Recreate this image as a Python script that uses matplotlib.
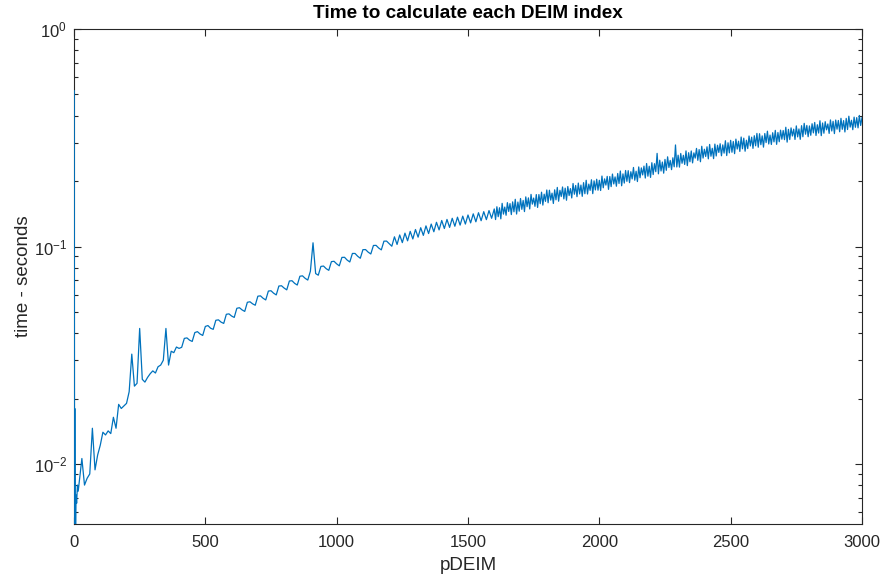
import numpy as np
import matplotlib.pyplot as plt
from matplotlib.ticker import LogLocator, NullFormatter

plt.rcParams['font.family'] = ['Liberation Sans', 'DejaVu Sans']

# primeros indices (pico inicial)
idx_start = [1, 2, 3, 4, 5, 6, 8, 10, 13, 16, 20]
t_start = [0.52, 0.0045, 0.018, 0.0050, 0.0068, 0.0048, 0.0072, 0.0066, 0.0080, 0.0075, 0.0083]

# tiempo por indice, cada 10 indices desde 30 hasta 1600
t_030_400 = [0.0106, 0.0080, 0.0086, 0.0090, 0.0146, 0.0094, 0.0110, 0.0122,
             0.0140, 0.0136, 0.0142, 0.0138, 0.0164, 0.0146, 0.0188, 0.0180,
             0.0185, 0.0190, 0.0215, 0.0320, 0.0228, 0.0235, 0.0420, 0.0245,
             0.0238, 0.0250, 0.0260, 0.0268, 0.0262, 0.0280, 0.0285, 0.0300,
             0.0420, 0.0285, 0.0330, 0.0325, 0.0345, 0.0340]
t_410_800 = [0.0344, 0.0378, 0.0380, 0.0371, 0.0366, 0.0402, 0.0406, 0.0396, 0.0390, 0.0429,
             0.0433, 0.0421, 0.0416, 0.0458, 0.0460, 0.0449, 0.0443, 0.0488, 0.0490, 0.0479,
             0.0472, 0.0520, 0.0523, 0.0511, 0.0503, 0.0554, 0.0557, 0.0545, 0.0537, 0.0591,
             0.0593, 0.0578, 0.0568, 0.0624, 0.0626, 0.0610, 0.0599, 0.0658, 0.0660, 0.0644]
t_810_1200 = [0.0632, 0.0694, 0.0696, 0.0677, 0.0665, 0.0730, 0.0733, 0.0714, 0.0701, 0.0770,
              0.1040, 0.0751, 0.0738, 0.0810, 0.0813, 0.0791, 0.0777, 0.0852, 0.0855, 0.0832,
              0.0815, 0.0891, 0.0892, 0.0866, 0.0849, 0.0929, 0.0929, 0.0902, 0.0883, 0.0967,
              0.0968, 0.0942, 0.0924, 0.1011, 0.1012, 0.0984, 0.0965, 0.1058, 0.1059, 0.1030]
t_1210_1600 = [0.1003, 0.1108, 0.1022, 0.1130, 0.1042, 0.1152, 0.1062, 0.1174, 0.1083, 0.1197,
               0.1104, 0.1220, 0.1125, 0.1244, 0.1147, 0.1268, 0.1169, 0.1292, 0.1192, 0.1317,
               0.1210, 0.1332, 0.1224, 0.1348, 0.1239, 0.1364, 0.1254, 0.1379, 0.1268, 0.1396,
               0.1284, 0.1413, 0.1299, 0.1430, 0.1314, 0.1446, 0.1329, 0.1463, 0.1348, 0.1488]

# zona ruidosa, cada 5 indices desde 1605 hasta 3000
t_1605_1800 = [0.1330, 0.1523, 0.1371, 0.1507, 0.1340, 0.1579, 0.1409, 0.1518, 0.1392, 0.1591,
               0.1449, 0.1575, 0.1402, 0.1604, 0.1444, 0.1648, 0.1410, 0.1601, 0.1453, 0.1662,
               0.1482, 0.1629, 0.1447, 0.1691, 0.1524, 0.1673, 0.1488, 0.1736, 0.1566, 0.1670,
               0.1530, 0.1733, 0.1512, 0.1733, 0.1573, 0.1777, 0.1550, 0.1740, 0.1612, 0.1819]
t_1805_2000 = [0.1589, 0.1815, 0.1634, 0.1759, 0.1577, 0.1822, 0.1639, 0.1869, 0.1615, 0.1813,
               0.1697, 0.1878, 0.1655, 0.1855, 0.1632, 0.1887, 0.1715, 0.1846, 0.1672, 0.1948,
               0.1739, 0.1908, 0.1695, 0.1957, 0.1744, 0.1916, 0.1701, 0.1966, 0.1749, 0.2016,
               0.1743, 0.1936, 0.1812, 0.2027, 0.1750, 0.2004, 0.1820, 0.2038, 0.1815, 0.2016]
t_2005_2200 = [0.1809, 0.2108, 0.1862, 0.2046, 0.1916, 0.2101, 0.1831, 0.2097, 0.1885, 0.2153,
               0.1939, 0.2089, 0.1893, 0.2166, 0.1948, 0.2224, 0.1902, 0.2157, 0.1957, 0.2236,
               0.1993, 0.2232, 0.1966, 0.2207, 0.2045, 0.2309, 0.2017, 0.2219, 0.1989, 0.2322,
               0.2071, 0.2298, 0.2133, 0.2342, 0.2064, 0.2407, 0.2105, 0.2339, 0.2078, 0.2428]
t_2205_2400 = [0.2142, 0.2403, 0.2208, 0.2680, 0.2158, 0.2493, 0.2224, 0.2445, 0.2173, 0.2514,
               0.2240, 0.2584, 0.2308, 0.2487, 0.2256, 0.2558, 0.2325, 0.2930, 0.2321, 0.2629,
               0.2317, 0.2677, 0.2413, 0.2626, 0.2384, 0.2751, 0.2354, 0.2699, 0.2453, 0.2749,
               0.2423, 0.2694, 0.2549, 0.2825, 0.2490, 0.2790, 0.2453, 0.2889, 0.2550, 0.2800]
t_2405_2600 = [0.2593, 0.2873, 0.2529, 0.2946, 0.2600, 0.2828, 0.2535, 0.2957, 0.2607, 0.2921,
               0.2707, 0.2968, 0.2613, 0.2932, 0.2687, 0.3064, 0.2619, 0.2999, 0.2694, 0.3076,
               0.2712, 0.3039, 0.2672, 0.3117, 0.2806, 0.3049, 0.2736, 0.3187, 0.2813, 0.3148,
               0.2742, 0.3080, 0.2820, 0.3221, 0.2899, 0.3182, 0.2826, 0.3231, 0.2904, 0.3311]
t_2605_2800 = [0.2860, 0.3300, 0.2938, 0.3226, 0.2863, 0.3308, 0.3005, 0.3390, 0.2960, 0.3253,
               0.2945, 0.3335, 0.3027, 0.3419, 0.2949, 0.3343, 0.3031, 0.3427, 0.3113, 0.3415,
               0.3099, 0.3534, 0.3019, 0.3456, 0.3103, 0.3510, 0.3221, 0.3463, 0.3106, 0.3585,
               0.3192, 0.3471, 0.3110, 0.3593, 0.3196, 0.3683, 0.3283, 0.3602, 0.3197, 0.3583]
t_2805_3000 = [0.3246, 0.3668, 0.3329, 0.3718, 0.3239, 0.3630, 0.3323, 0.3786, 0.3233, 0.3697,
               0.3317, 0.3749, 0.3439, 0.3659, 0.3311, 0.3818, 0.3397, 0.3762, 0.3304, 0.3815,
               0.3463, 0.3796, 0.3369, 0.3885, 0.3457, 0.3792, 0.3362, 0.3882, 0.3450, 0.3972,
               0.3539, 0.3805, 0.3444, 0.3934, 0.3533, 0.3913, 0.3511, 0.4005, 0.3602, 0.3910]

t_10 = t_030_400 + t_410_800 + t_810_1200 + t_1210_1600
idx_10 = list(range(30, 30 + 10 * len(t_10), 10))
t_5 = t_1605_1800 + t_1805_2000 + t_2005_2200 + t_2205_2400 + t_2405_2600 + t_2605_2800 + t_2805_3000
idx_5 = list(range(1605, 1605 + 5 * len(t_5), 5))

pdeim = idx_start + idx_10 + idx_5
tiempo = t_start + t_10 + t_5

#########################
# GRAFICA

fig = plt.figure(figsize=(8.82, 5.8), dpi=100)
ax = fig.add_axes([0.0839, 0.0966, 0.8934, 0.8534])

ax.semilogy(pdeim, tiempo, color='#0072BD', linewidth=0.9, zorder=3)

ax.set_xlim(0, 3000)
ax.set_ylim(0.0053, 1)
ax.set_xticks([0, 500, 1000, 1500, 2000, 2500, 3000])
ax.yaxis.set_major_locator(LogLocator(base=10, numticks=10))
ax.yaxis.set_minor_locator(LogLocator(base=10, subs=np.arange(2, 10), numticks=10))
ax.yaxis.set_minor_formatter(NullFormatter())

gris = '#262626'
for s in ax.spines.values():
    s.set_color(gris)
    s.set_linewidth(0.8)
ax.tick_params(which='both', direction='in', top=True, right=True, colors=gris,
               labelsize=12, width=0.8)
ax.tick_params(which='major', length=5, pad=5)
ax.tick_params(which='minor', length=3)
ax.tick_params(axis='x', which='major', pad=8)
ax.tick_params(axis='x', which='minor', top=False, bottom=False)

ax.set_xlabel('pDEIM', fontsize=13.5, color=gris, labelpad=5)
ax.set_ylabel('time - seconds', fontsize=13.5, color=gris, labelpad=1)
ax.set_title('Time to calculate each DEIM index', fontsize=13.7, fontweight='bold',
             color='black', pad=8)

plt.savefig('out.png', dpi=100)
plt.close()
